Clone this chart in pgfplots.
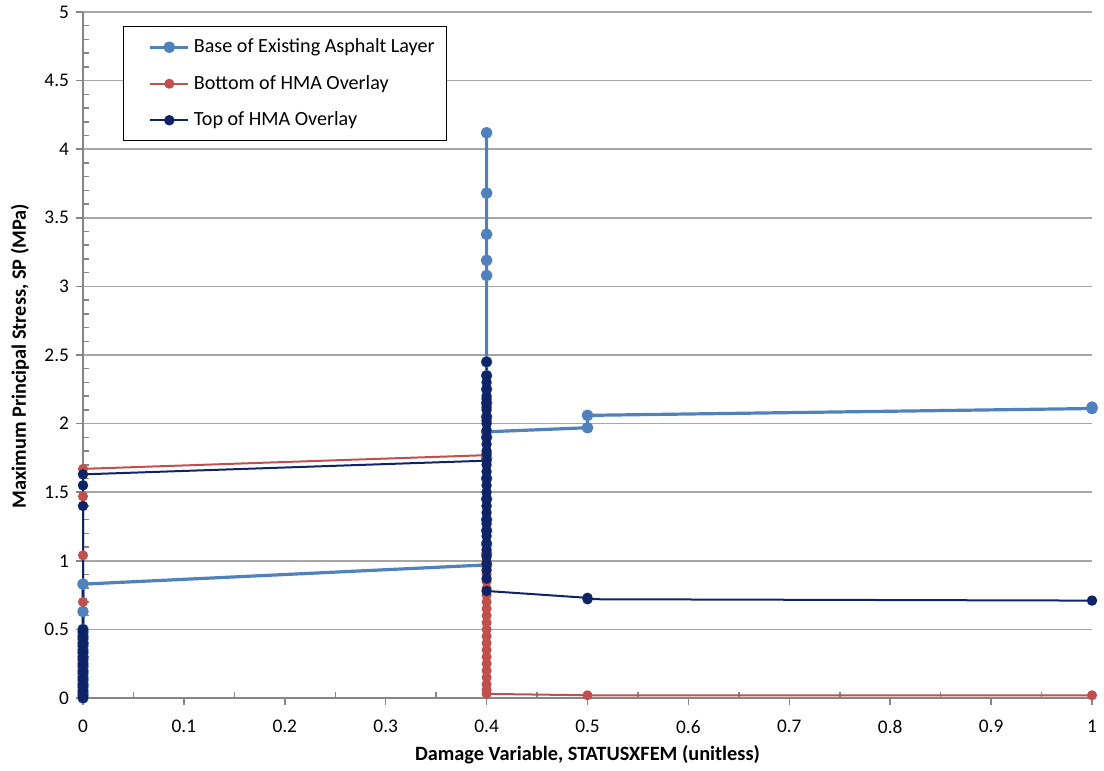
\documentclass[border=0pt]{standalone}
\usepackage{pgfplots}
\pgfplotsset{compat=1.18}
\usepackage{fontspec}
\setmainfont{Carlito}
\definecolor{cBase}{HTML}{4F81BD}
\definecolor{cBot}{HTML}{C0504D}
\definecolor{cTop}{HTML}{0F2466}
\definecolor{gridgray}{HTML}{A6A6A6}
\definecolor{axgray}{HTML}{868686}
\begin{document}
\begin{tikzpicture}
\useasboundingbox (-41.5bp,-36.5bp) rectangle (510.5bp,349bp);
\begin{axis}[
  scale only axis, width=504.5bp, height=343bp,
  xmin=0, xmax=1, ymin=0, ymax=5,
  clip=false,
  axis x line*=bottom, axis y line*=left,
  xtick={0,0.1,0.2,0.3,0.4,0.5,0.6,0.7,0.8,0.9,1},
  xticklabels={0,0.1,0.2,0.3,0.4,0.5,0.6,0.7,0.8,0.9,1},
  ytick={0,0.5,1,1.5,2,2.5,3,3.5,4,4.5,5},
  yticklabels={0,0.5,1,1.5,2,2.5,3,3.5,4,4.5,5},
  minor y tick num=4,
  minor x tick num=1,
  ymajorgrids,
  major grid style={gridgray, line width=0.75bp},
  axis line style={axgray, line width=0.75bp},
  tick style={axgray, line width=0.75bp},
  tick align=outside, major tick length=3.5bp, minor tick length=3bp,
  minor y tick style={xshift=3bp},
  minor x tick style={yshift=3bp},
  tick label style={font=\fontsize{9.7}{11}\selectfont, black},
  xticklabel style={yshift=-4bp},
  /pgf/number format/assume math mode=true,
  label style={font=\bfseries\fontsize{10.2}{12}\selectfont},
  xlabel={Damage Variable, STATUSXFEM (unitless)},
  ylabel={Maximum Principal Stress, SP (MPa)},
  xlabel style={at={(axis description cs:0.5,-0.0831)}, anchor=center},
  ylabel style={at={(axis description cs:-0.0624,0.4985)}, anchor=center},
  legend style={at={(rel axis cs:0.0396,0.9796)}, anchor=north west,
    draw=black, line width=0.75bp, font=\fontsize{10.1}{12}\selectfont,
    row sep=5.8bp, inner xsep=4bp, inner ysep=4bp, cells={anchor=west}},
  legend image code/.code={
    \path (0cm,0cm);
    \draw[mark repeat=2,mark phase=2] plot coordinates {(0.3cm,0cm) (0.635cm,0cm) (0.97cm,0cm)};},
  every axis plot/.append style={line join=round, mark=*, mark options={solid}},
]
% Base of Existing Asphalt Layer
\addplot[color=cBase, line width=1.6bp, mark size=2.1bp] coordinates {
 (0,0.00) (0,0.01) (0,0.03) (0,0.05) (0,0.08) (0,0.10) (0,0.13) (0,0.15)
 (0,0.18) (0,0.20) (0,0.23) (0,0.25) (0,0.28) (0,0.30) (0,0.33) (0,0.35)
 (0,0.38) (0,0.40) (0,0.43) (0,0.45) (0,0.48) (0,0.50) (0,0.63) (0,0.83)
 (0.4,0.97) (0.4,1.05) (0.4,1.12) (0.4,1.22) (0.4,1.30) (0.4,1.45) (0.4,1.60)
 (0.4,1.75) (0.4,1.90) (0.4,2.05) (0.4,2.15) (0.4,2.25) (0.4,2.35) (0.4,2.45)
 (0.4,3.08) (0.4,3.19) (0.4,3.38) (0.4,3.68) (0.4,4.12) (0.4,1.94)
 (0.5,1.97) (0.5,2.06) (1,2.11) (1,2.12)
};
\addlegendentry{Base of Existing Asphalt Layer}
% Bottom of HMA Overlay
\addplot[color=cBot, line width=1bp, mark size=2bp] coordinates {
 (0,0.00) (0,0.02) (0,0.05) (0,0.08) (0,0.10) (0,0.13) (0,0.15) (0,0.18)
 (0,0.20) (0,0.23) (0,0.25) (0,0.28) (0,0.30) (0,0.33) (0,0.35) (0,0.38)
 (0,0.40) (0,0.43) (0,0.45) (0,0.48) (0,0.50) (0,0.70) (0,1.04) (0,1.47) (0,1.67)
 (0.4,1.77) (0.4,1.60) (0.4,1.40) (0.4,1.22) (0.4,1.05) (0.4,1.00) (0.4,0.95)
 (0.4,0.90) (0.4,0.85) (0.4,0.80) (0.4,0.75) (0.4,0.70) (0.4,0.65) (0.4,0.60)
 (0.4,0.55) (0.4,0.50) (0.4,0.45) (0.4,0.40) (0.4,0.35) (0.4,0.30) (0.4,0.25)
 (0.4,0.20) (0.4,0.15) (0.4,0.10) (0.4,0.06) (0.4,0.03)
 (0.5,0.02) (1,0.02)
};
\addlegendentry{Bottom of HMA Overlay}
% Top of HMA Overlay
\addplot[color=cTop, line width=1bp, mark size=2.1bp] coordinates {
 (0,0.00) (0,0.02) (0,0.05) (0,0.08) (0,0.10) (0,0.13) (0,0.15) (0,0.18)
 (0,0.20) (0,0.23) (0,0.25) (0,0.28) (0,0.30) (0,0.33) (0,0.35) (0,0.38)
 (0,0.40) (0,0.43) (0,0.45) (0,0.48) (0,0.50) (0,1.40) (0,1.55) (0,1.63)
 (0.4,1.73) (0.4,1.80) (0.4,1.90) (0.4,2.00) (0.4,2.05) (0.4,2.10) (0.4,2.15)
 (0.4,2.20) (0.4,2.25) (0.4,2.30) (0.4,2.45) (0.4,2.35) (0.4,2.18) (0.4,2.12)
 (0.4,2.02) (0.4,1.95) (0.4,1.85) (0.4,1.78) (0.4,1.70) (0.4,1.65) (0.4,1.60)
 (0.4,1.55) (0.4,1.50) (0.4,1.45) (0.4,1.40) (0.4,1.35) (0.4,1.30) (0.4,1.27)
 (0.4,1.22) (0.4,1.18) (0.4,1.13) (0.4,1.08) (0.4,1.03) (0.4,0.98) (0.4,0.93)
 (0.4,0.87) (0.4,0.78)
 (0.5,0.73) (0.5,0.72) (1,0.71)
};
\addlegendentry{Top of HMA Overlay}
\end{axis}
\end{tikzpicture}
\end{document}
